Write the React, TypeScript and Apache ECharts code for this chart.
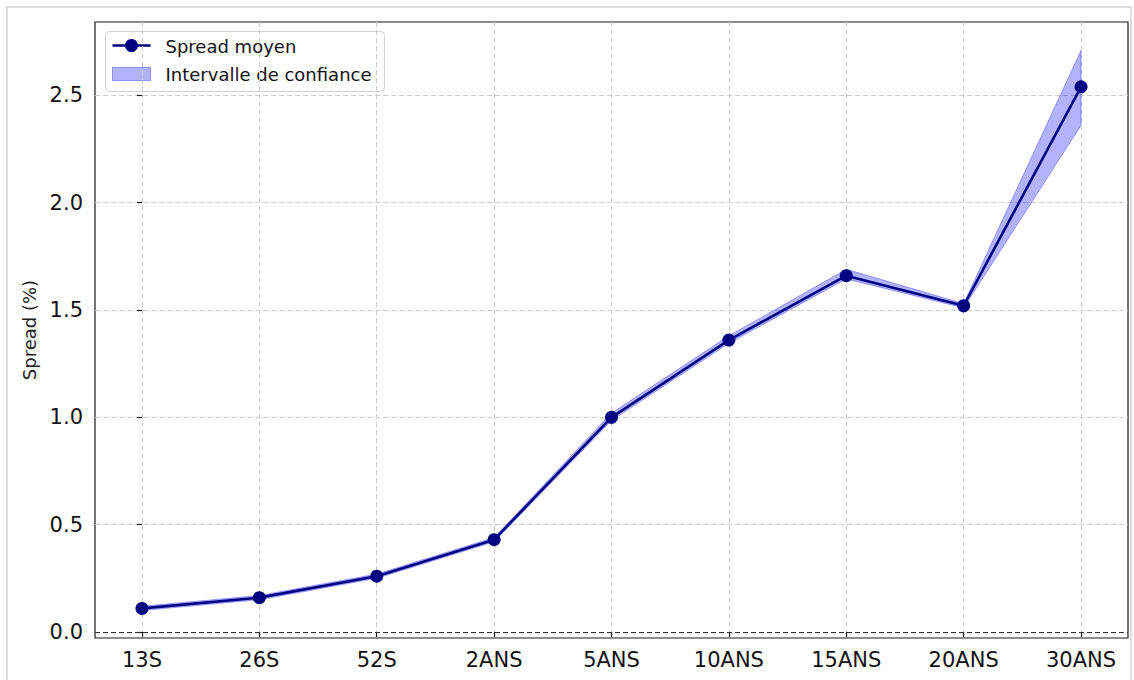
import React, { useEffect, useRef } from "react";
import * as echarts from "echarts";

const categories = ["13S", "26S", "52S", "2ANS", "5ANS", "10ANS", "15ANS", "20ANS", "30ANS"];
const meanSpread = [0.11, 0.16, 0.26, 0.43, 1.0, 1.36, 1.66, 1.52, 2.54];
const lowerBound = [0.1, 0.15, 0.25, 0.42, 0.985, 1.345, 1.645, 1.51, 2.36];
const upperBound = [0.12, 0.17, 0.27, 0.44, 1.02, 1.38, 1.69, 1.53, 2.71];
const yTicks = [0, 0.5, 1.0, 1.5, 2.0, 2.5];

const FONT = "DejaVu Sans";

export default function App() {
  const ref = useRef<HTMLDivElement>(null);
  useEffect(() => {
    if (!ref.current) return;
    const chart = echarts.init(ref.current, null, { renderer: "svg" });
    const xIdx = categories.map((_, i) => i);
    const option = {
      animation: false,
      backgroundColor: "#ffffff",
      grid: {
        left: 95,
        right: 6,
        top: 22,
        bottom: 42,
        show: true,
        borderColor: "#1a1a1a",
        borderWidth: 1.2,
        backgroundColor: "transparent",
      },
      xAxis: {
        type: "value",
        min: -0.4,
        max: 8.4,
        axisLine: { show: false },
        axisTick: {
          show: true,
          customValues: xIdx,
          length: 5,
          lineStyle: { color: "#1a1a1a", width: 1.2 },
        },
        axisLabel: {
          customValues: xIdx,
          formatter: (v: number) => categories[Math.round(v)] ?? "",
          margin: 11,
          fontFamily: FONT,
          fontSize: 21,
          color: "#111",
        },
        splitLine: {
          show: true,
          lineStyle: { color: "#cccccc", type: [5, 3], width: 1 },
        },
      },
      yAxis: {
        type: "value",
        min: -0.028,
        max: 2.842,
        name: "Spread (%)",
        nameLocation: "middle",
        nameGap: 46,
        nameTextStyle: { fontFamily: FONT, fontSize: 18, color: "#222" },
        axisLine: { show: false },
        axisTick: {
          show: true,
          customValues: yTicks,
          length: 5,
          lineStyle: { color: "#1a1a1a", width: 1.2 },
        },
        axisLabel: {
          customValues: yTicks,
          formatter: (v: number) => v.toFixed(1),
          margin: 12,
          fontFamily: FONT,
          fontSize: 21,
          color: "#111",
        },
        splitLine: {
          show: true,
          lineStyle: { color: "#cccccc", type: [5, 3], width: 1 },
        },
      },
      series: [
        {
          name: "Intervalle de confiance",
          type: "custom",
          silent: true,
          z: 2,
          data: [[0]],
          renderItem: (_params: any, api: any) => {
            const upperPts = xIdx.map((i) => api.coord([i, upperBound[i]]));
            const lowerPts = xIdx
              .slice()
              .reverse()
              .map((i) => api.coord([i, lowerBound[i]]));
            return {
              type: "polygon",
              shape: { points: upperPts.concat(lowerPts) },
              style: {
                fill: "rgba(0,0,255,0.3)",
                stroke: "rgba(0,0,255,0.3)",
                lineWidth: 1,
              },
            };
          },
        },
        {
          name: "Spread moyen",
          type: "line",
          symbol: "circle",
          symbolSize: 13,
          data: xIdx.map((i) => [i, meanSpread[i]]),
          lineStyle: { color: "#000080", width: 2.6 },
          itemStyle: { color: "#000080" },
          z: 4,
          markLine: {
            silent: true,
            symbol: "none",
            label: { show: false },
            lineStyle: { color: "#333", type: [5, 3], width: 1.1 },
            data: [{ yAxis: 0 }],
          },
        },
      ],
      graphic: [
        {
          type: "rect",
          shape: { x: 7, y: 7, width: 1124, height: 690 },
          style: { fill: "none", stroke: "#d4d4d4", lineWidth: 1.5 },
          silent: true,
        },
        {
          type: "group",
          left: 105,
          top: 31,
          children: [
            {
              type: "rect",
              shape: { x: 0, y: 0, width: 279, height: 60, r: 4 },
              style: { fill: "rgba(255,255,255,0.85)", stroke: "#d0d0d0", lineWidth: 1 },
            },
            {
              type: "line",
              shape: { x1: 7, y1: 14, x2: 45, y2: 14 },
              style: { stroke: "#000080", lineWidth: 2.6 },
            },
            {
              type: "circle",
              shape: { cx: 26, cy: 14, r: 6.5 },
              style: { fill: "#000080" },
            },
            {
              type: "text",
              x: 60,
              y: 15,
              style: {
                text: "Spread moyen",
                fontFamily: FONT,
                fontSize: 18,
                fill: "#111",
                verticalAlign: "middle",
              },
            },
            {
              type: "rect",
              shape: { x: 7, y: 36, width: 38, height: 13 },
              style: { fill: "rgba(0,0,255,0.3)", stroke: "rgba(0,0,255,0.35)", lineWidth: 1 },
            },
            {
              type: "text",
              x: 60,
              y: 43,
              style: {
                text: "Intervalle de confiance",
                fontFamily: FONT,
                fontSize: 18,
                fill: "#111",
                verticalAlign: "middle",
              },
            },
          ],
        },
      ],
    };
    chart.setOption(option as any);
    return () => chart.dispose();
  }, []);
  return (
    <div
      ref={ref}
      style={{ position: "fixed", left: 0, top: 0, width: 1134, height: 680 }}
    />
  );
}
